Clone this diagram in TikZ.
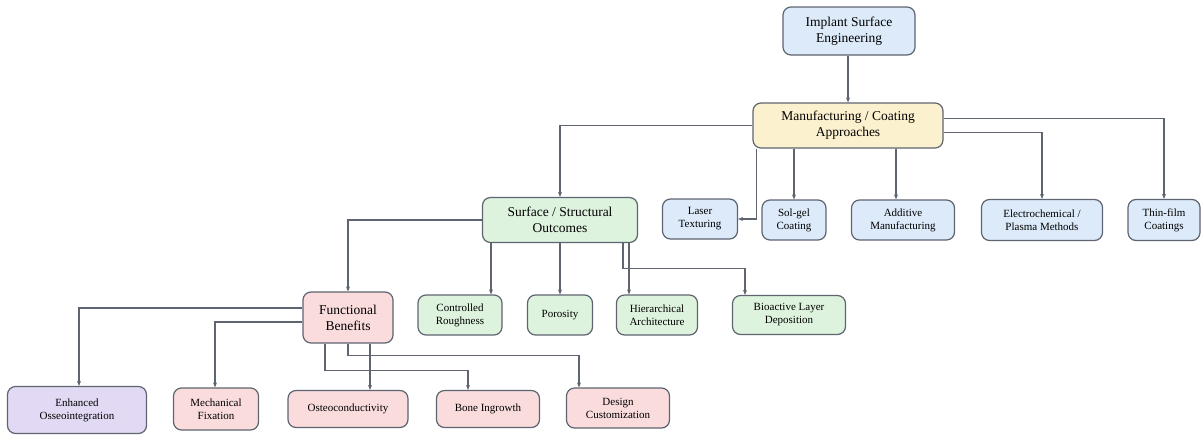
\documentclass[tikz,border=0pt]{standalone}
\usepackage{fontspec}
\setmainfont{Liberation Serif}
\usetikzlibrary{arrows.meta}
\definecolor{boxblue}{HTML}{DCEAFA}
\definecolor{boxyellow}{HTML}{FCF1CF}
\definecolor{boxgreen}{HTML}{DEF3DE}
\definecolor{boxpink}{HTML}{FADCDD}
\definecolor{boxpurple}{HTML}{E2DAF4}
\definecolor{edgegray}{HTML}{5E6470}
\begin{document}
\begin{tikzpicture}[x=1pt,y=-1pt,
    box/.style={draw=edgegray,line width=1.2pt,rounded corners=8pt,align=center,
      inner sep=2pt,font=\fontsize{11}{13}\selectfont},
    bigbox/.style={box,font=\fontsize{13.5}{16}\selectfont},
    arr/.style={-{Stealth[length=5pt,width=4pt]},draw=edgegray,line width=1.1pt}]
  \useasboundingbox (0,0) rectangle (1202,434);
  \draw
    (849,31) node[bigbox,fill=boxblue,minimum width=132pt,minimum height=48pt] (ise){Implant Surface\\Engineering}
    (848,125.5) node[bigbox,fill=boxyellow,minimum width=190pt,minimum height=45pt] (mca){Manufacturing / Coating\\Approaches}
    (560,220) node[bigbox,fill=boxgreen,minimum width=155pt,minimum height=45pt] (sso){Surface / Structural\\Outcomes}
    (700,219) node[box,fill=boxblue,minimum width=75pt,minimum height=40pt] (laser){Laser\\Texturing}
    (794,220) node[box,fill=boxblue,minimum width=64pt,minimum height=40pt] (solgel){Sol-gel\\Coating}
    (903,220) node[box,fill=boxblue,minimum width=103pt,minimum height=40pt] (additive){Additive\\Manufacturing}
    (1042,220) node[box,fill=boxblue,minimum width=121pt,minimum height=41pt] (electro){Electrochemical /\\Plasma Methods}
    (1164,220) node[box,fill=boxblue,minimum width=72pt,minimum height=41pt] (thinfilm){Thin-film\\Coatings}
    (348,317.5) node[bigbox,fill=boxpink,minimum width=90pt,minimum height=51pt] (fb){Functional\\Benefits}
    (460,315) node[box,fill=boxgreen,minimum width=84pt,minimum height=40pt] (rough){Controlled\\Roughness}
    (560,315) node[box,fill=boxgreen,minimum width=65pt,minimum height=40pt] (poro){Porosity}
    (657,315) node[box,fill=boxgreen,minimum width=81pt,minimum height=40pt] (hier){Hierarchical\\Architecture}
    (789,315) node[box,fill=boxgreen,minimum width=113pt,minimum height=39pt] (bio){Bioactive Layer\\Deposition}
    (77,410) node[box,fill=boxpurple,minimum width=139pt,minimum height=47pt] (osseo){Enhanced\\Osseointegration}
    (216,409) node[box,fill=boxpink,minimum width=85pt,minimum height=42pt] (fix){Mechanical\\Fixation}
    (348,409) node[box,fill=boxpink,minimum width=120pt,minimum height=37pt] (ostc){Osteoconductivity}
    (488,409) node[box,fill=boxpink,minimum width=103pt,minimum height=37pt] (bone){Bone Ingrowth}
    (618,408) node[box,fill=boxpink,minimum width=103pt,minimum height=40pt] (design){Design\\Customization};
  \begin{scope}[arr]
    % top part
    \draw (ise.south -| mca.north) -- (mca.north);
    \draw (mca.west) -| (sso.north);
    \draw ([xshift=4pt]mca.south west) |- (laser.east);
    \draw (mca.south -| solgel.north) -- (solgel.north);
    \draw ([xshift=-7pt]mca.south -| additive.north) -- ([xshift=-7pt]additive.north);
    \draw ([yshift=-7pt]mca.east) -| (electro.north);
    \draw ([yshift=7pt]mca.east) -| (thinfilm.north);
    % outcomes
    \draw (sso.west) -| (fb.north);
    \draw ([xshift=31pt]rough.north |- sso.south) -- ([xshift=31pt]rough.north);
    \draw (sso.south -| poro.north) -- (poro.north);
    \draw ([xshift=-28pt]hier.north |- sso.south) -- ([xshift=-28pt]hier.north);
    \draw ([xshift=63pt]sso.south) -- ++(0,25) -| ([xshift=-44pt]bio.north);
    % benefits
    \draw ([yshift=9.5pt]fb.west) -| ([xshift=2pt]osseo.north);
    \draw ([yshift=-4.5pt]fb.west) -| ([xshift=-1pt]fix.north);
    \draw ([xshift=22pt]fb.south) -- ([xshift=22pt]ostc.north);
    \draw ([xshift=-23pt]fb.south) -- ++(0,27) -| ([xshift=-20pt]bone.north);
    \draw (fb.south) -- ++(0,12) -| ([xshift=-39pt]design.north);
  \end{scope}
\end{tikzpicture}
\end{document}
